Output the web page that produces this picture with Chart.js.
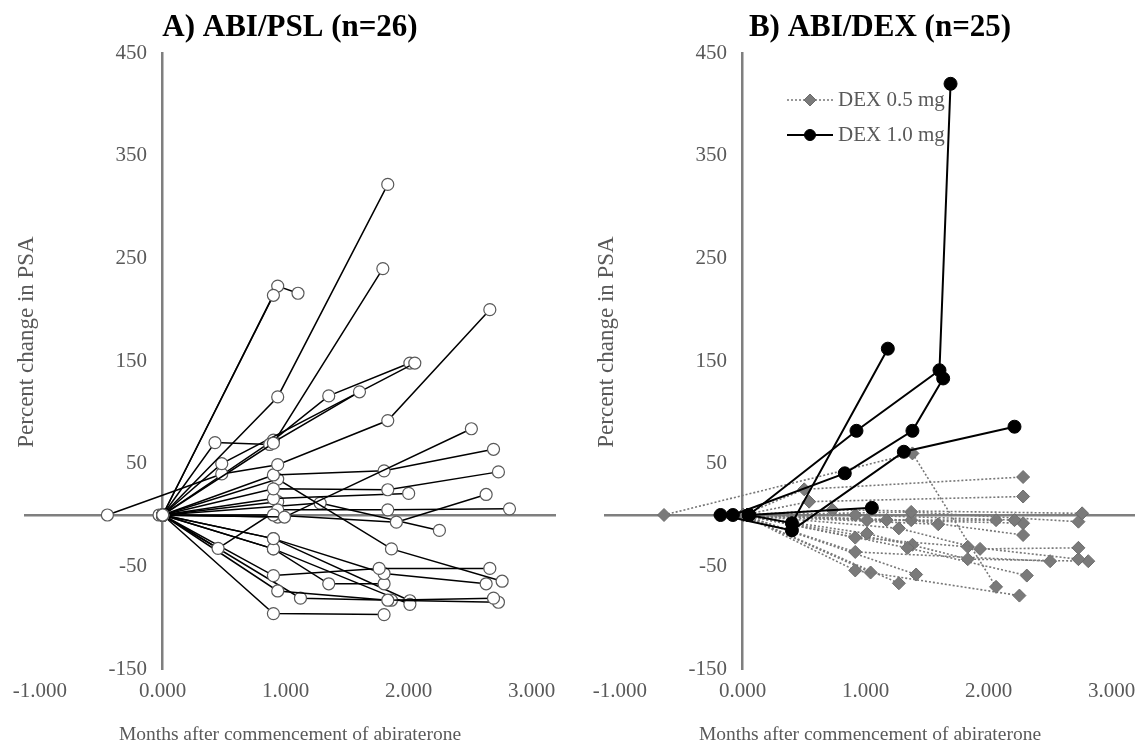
<!DOCTYPE html>
<html>
<head>
<meta charset="utf-8">
<script src="https://cdn.jsdelivr.net/npm/chart.js@4.4.1/dist/chart.umd.min.js"></script>
<style>
  html, body { margin: 0; padding: 0; background: #fff; overflow: hidden; width: 1135px; height: 747px; }
  .panel { position: absolute; top: 0; width: 580px; height: 747px; }
  #panelA { left: 0; }
  #panelB { left: 580px; }
</style>
</head>
<body>
<div class="panel" id="panelA"><canvas id="chartA"></canvas></div>
<div class="panel" id="panelB"><canvas id="chartB"></canvas></div>
<script>
// axis ticks
const xTicks = [-1, 0, 1, 2, 3];
const yTicks = [-150, -50, 50, 150, 250, 350, 450];

// A) ABI/PSL - one row per patient (months, % change in PSA)
const pslMonths = [
  [0, 0.90], [0, 0.935, 1.10], [0, 0.935, 1.83], [0, 0.90, 1.79],
  [0, 0.425, 0.87, 1.60], [0, 0.48, 2.05], [-0.45, 0.48, 0.935, 1.83, 2.66],
  [0, 0.99, 2.51], [0, 0.90, 1.80, 2.69], [0, 0.90, 1.35, 2.01],
  [0, 0.90, 1.83, 2.73], [0, 0.90, 2.00], [0, 0.90, 1.90, 2.63],
  [0, 0.45, 0.935, 1.83, 2.82], [0, 0.935, 1.86, 2.76], [0, 1.28, 2.25],
  [0, 0.90, 1.76, 2.66], [0, 0.90, 1.80, 2.63], [0, 0.90, 1.35, 1.80],
  [0, 0.935, 1.83, 2.69], [0, 1.12, 1.86, 2.73], [0, 0.90, 1.80],
  [0, 0.90, 2.01], [0, 0.90, 2.01], [-0.03, 0.935], [0, 0.935]
];
const pslChange = [
  [0, 214], [0, 223, 216], [0, 115, 322], [0, 70, 240],
  [0, 70.5, 68.7, 120], [0, 50, 148], [0, 40, 49, 92, 200],
  [0, -2, 84], [0, 39, 43, 64], [0, 73, 116, 148],
  [0, 25.5, 24.6, 42], [0, 16, 21], [0, 0, -7, 20],
  [0, -32.5, 5, 5, 6], [0, 35, -33, -64.5], [0, 11.6, -15],
  [0, -59, -52, -52], [0, -23, -57, -67], [0, -33, -67, -67],
  [0, -74, -83, -81], [0, -81, -83, -85], [0, -96, -97],
  [0, -33, -87], [0, -23, -83.5], [0, -2], [0, 13]
];

// B) ABI/DEX - DEX 1.0 mg patients
const dex10Months = [
  [0.05, 0.40, 1.18], [0.05, 0.925, 1.60, 1.69], [-0.08, 0.83, 1.38, 1.63],
  [-0.18, 0.40, 1.31, 2.21], [0.05, 1.05]
];
const dex10Change = [
  [0, -8, 162], [0, 82, 141, 420], [0, 40.6, 82, 133],
  [0, -15, 61.6, 86], [0, 7]
];

// B) ABI/DEX - DEX 0.5 mg patients
const dex05Months = [
  [-0.64, 1.38, 2.06], [0, 0.50, 2.28], [0, 0.54, 2.28], [0, 0.73, 2.76],
  [0, 0.915, 2.21], [0, 1.01, 2.06], [0, 1.17, 2.28], [0, 1.37, 2.73],
  [0, 1.37, 2.28], [0, 1.27, 1.93, 2.73], [0, 0.915, 1.83, 2.73],
  [0, 1.01, 1.83, 2.81], [0, 0.915, 2.50], [0, 1.34, 2.31], [0, 1.38],
  [0, 0.915, 2.25], [0, 1.04], [0, 1.41], [0, 1.27], [-0.19, 1.59]
];
const dex05Change = [
  [0, 60, -70], [0, 25, 37], [0, 13, 18], [0, 5, 1.6],
  [0, 0, -5], [0, -5, -5], [0, -5, -8], [0, 3, -6.5],
  [0, -5, -19.5], [0, -13, -33, -32], [0, -22, -31, -43],
  [0, -18, -43, -45], [0, -36, -45], [0, -32, -59], [0, -29],
  [0, -54, -78.5], [0, -56], [0, -58], [0, -66.5], [0, -9]
];

const FONT = '"Liberation Serif", "Times New Roman", serif';
const TEXT_GREY = '#595959';
const AXIS_GREY = '#7f7f7f';
const X_MIN = -1.12;
const X_MAX = 3.19;

const pslStyle = {
  borderColor: '#000', borderWidth: 1.5,
  pointStyle: 'circle', pointRadius: 6, pointBackgroundColor: '#fff',
  pointBorderColor: '#595959', pointBorderWidth: 1.2
};
const dex05Style = {
  borderColor: '#777', borderWidth: 1.6, borderDash: [2, 2],
  pointStyle: 'rectRot', pointRadius: 6.5, pointBackgroundColor: '#7a7a7a',
  pointBorderColor: '#6b6b6b', pointBorderWidth: 1
};
const dex10Style = {
  borderColor: '#000', borderWidth: 2,
  pointStyle: 'circle', pointRadius: 6.5, pointBackgroundColor: '#000',
  pointBorderColor: '#000', pointBorderWidth: 1
};

function patientSets(months, change, style) {
  return months.map((m, i) => Object.assign({
    data: m.map((x, j) => ({ x: x, y: change[i][j] })),
    showLine: true, tension: 0, xAxisID: 'x', yAxisID: 'y'
  }, style));
}

function fixedTicks(values) {
  return scale => { scale.ticks = values.map(v => ({ value: v })); };
}

// panel title, y-axis title and the hand-made legend (line + marker + label)
const panelText = {
  id: 'panelText',
  afterDraw(chart, args, opts) {
    const ctx = chart.ctx;
    ctx.save();
    ctx.fillStyle = '#000';
    ctx.font = 'bold 31px ' + FONT;
    ctx.textAlign = 'center';
    ctx.textBaseline = 'middle';
    ctx.fillText(opts.title, opts.titleX, 28);

    ctx.fillStyle = TEXT_GREY;
    ctx.font = '23px ' + FONT;
    ctx.translate(opts.yTitleX, opts.yTitleY);
    ctx.rotate(-Math.PI / 2);
    ctx.fillText(opts.yTitle, 0, 0);
    ctx.restore();

    (opts.legend || []).forEach(item => {
      const s = item.style;
      const midX = (item.x0 + item.x1) / 2;
      ctx.save();
      ctx.strokeStyle = s.borderColor;
      ctx.lineWidth = s.borderWidth;
      ctx.setLineDash(s.borderDash || []);
      ctx.beginPath();
      ctx.moveTo(item.x0, item.y);
      ctx.lineTo(item.x1, item.y);
      ctx.stroke();
      ctx.setLineDash([]);
      ctx.fillStyle = s.pointBackgroundColor;
      ctx.strokeStyle = s.pointBorderColor;
      ctx.lineWidth = 1;
      const r = item.r;
      ctx.beginPath();
      if (s.pointStyle === 'rectRot') {
        ctx.moveTo(midX, item.y - r); ctx.lineTo(midX + r, item.y);
        ctx.lineTo(midX, item.y + r); ctx.lineTo(midX - r, item.y);
        ctx.closePath();
      } else {
        ctx.arc(midX, item.y, r, 0, Math.PI * 2);
      }
      ctx.fill();
      ctx.stroke();
      ctx.fillStyle = TEXT_GREY;
      ctx.font = '21px ' + FONT;
      ctx.textAlign = 'left';
      ctx.textBaseline = 'middle';
      ctx.fillText(item.text, item.x1 + 5, item.y);
      ctx.restore();
    });
  }
};

function panelOptions(title, titleX, legend) {
  return {
    animation: false,
    responsive: true,
    maintainAspectRatio: false,
    events: [],
    layout: { padding: { left: 25, right: 25, top: 53, bottom: 0 } },
    plugins: {
      legend: { display: false },
      tooltip: { enabled: false },
      title: { display: false },
      panelText: {
        title: title, titleX: titleX,
        yTitle: 'Percent change in PSA', yTitleX: 27, yTitleY: 342, legend: legend
      }
    },
    scales: {
      x: {
        type: 'linear', axis: 'x', min: X_MIN, max: X_MAX, position: { y: 0 },
        ticks: { display: false }, grid: { display: false },
        border: { color: AXIS_GREY, width: 2.5 }
      },
      xl: {
        type: 'linear', axis: 'x', min: X_MIN, max: X_MAX, position: 'bottom',
        afterBuildTicks: fixedTicks(xTicks),
        afterFit: s => { s.height = 78; },
        ticks: {
          color: TEXT_GREY, font: { family: FONT, size: 21 }, padding: 10,
          maxRotation: 0, autoSkip: false, callback: v => v.toFixed(3)
        },
        grid: { display: false, drawTicks: false },
        border: { display: false },
        title: {
          display: true, text: 'Months after commencement of abiraterone',
          color: TEXT_GREY, font: { family: FONT, size: 19.5 }, padding: { bottom: 0 }
        }
      },
      y: {
        type: 'linear', axis: 'y', min: -150, max: 450, position: { x: 0 },
        afterBuildTicks: fixedTicks(yTicks),
        // labels sit on the crossing axis; trailing spaces keep them off the line
        ticks: {
          color: TEXT_GREY, font: { family: FONT, size: 21 }, autoSkip: false,
          callback: v => v + '   '
        },
        grid: { display: false, drawTicks: false },
        border: { color: AXIS_GREY, width: 2.5 }
      }
    }
  };
}

new Chart(document.getElementById('chartA'), {
  type: 'scatter',
  data: { datasets: patientSets(pslMonths, pslChange, pslStyle) },
  options: panelOptions('A) ABI/PSL (n=26)', 290, []),
  plugins: [panelText]
});

new Chart(document.getElementById('chartB'), {
  type: 'scatter',
  data: {
    datasets: patientSets(dex10Months, dex10Change, dex10Style)
      .concat(patientSets(dex05Months, dex05Change, dex05Style))
  },
  options: panelOptions('B) ABI/DEX (n=25)', 300, [
    { text: 'DEX 0.5 mg', style: dex05Style, r: 6, x0: 207, x1: 253, y: 100 },
    { text: 'DEX 1.0 mg', style: dex10Style, r: 5.5, x0: 207, x1: 253, y: 135 }
  ]),
  plugins: [panelText]
});
</script>
</body>
</html>
